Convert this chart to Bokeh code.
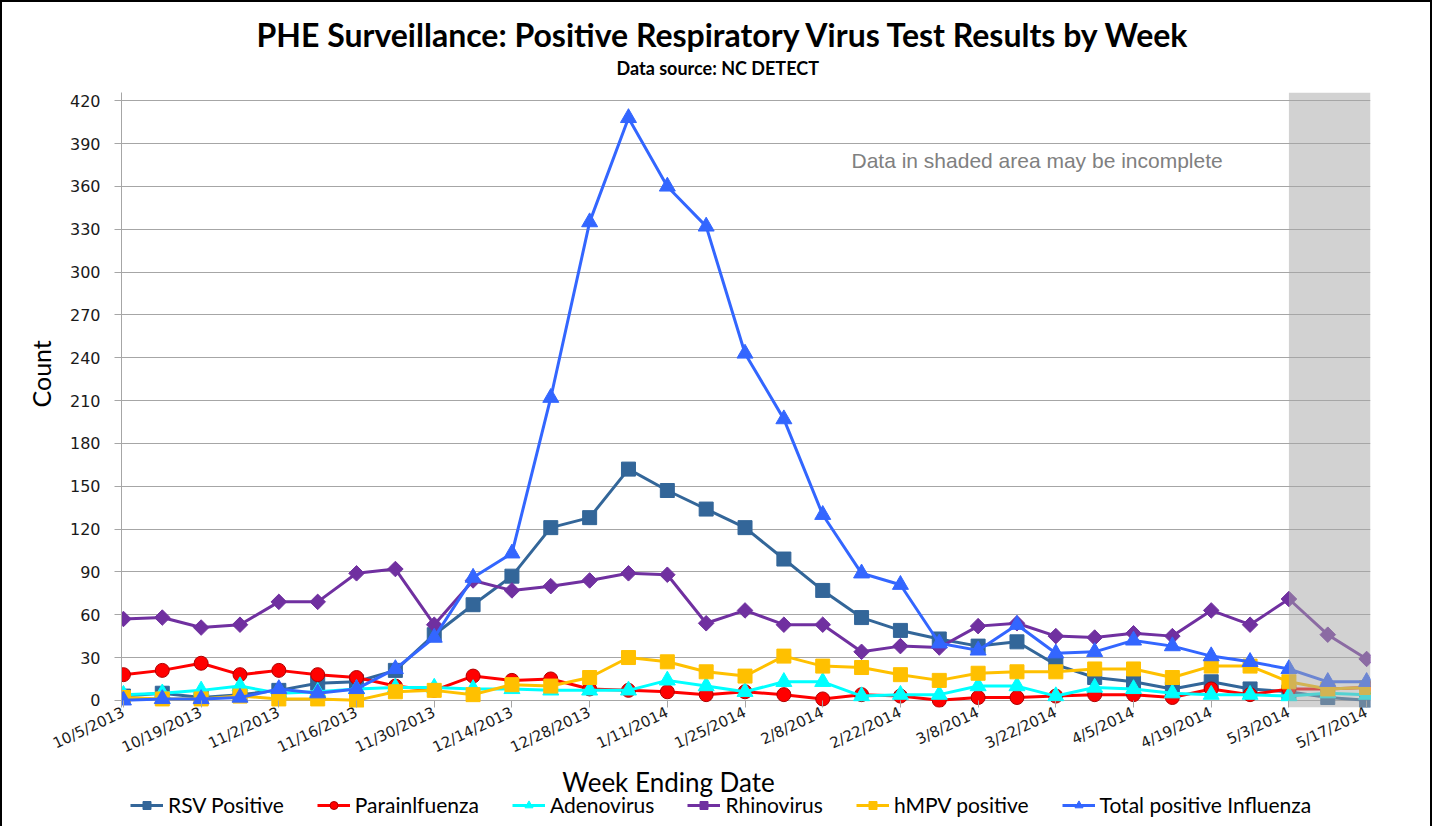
from bokeh.plotting import figure
from bokeh.layouts import column
from bokeh.models import (FixedTicker, Label, Legend, LegendItem, BoxAnnotation, Range1d, Title)
from bokeh.embed import file_html
from bokeh.resources import INLINE

weeks = ["10/5/2013", "10/12/2013", "10/19/2013", "10/26/2013", "11/2/2013", "11/9/2013",
         "11/16/2013", "11/23/2013", "11/30/2013", "12/7/2013", "12/14/2013", "12/21/2013",
         "12/28/2013", "1/4/2014", "1/11/2014", "1/18/2014", "1/25/2014", "2/1/2014",
         "2/8/2014", "2/15/2014", "2/22/2014", "3/1/2014", "3/8/2014", "3/15/2014",
         "3/22/2014", "3/29/2014", "4/5/2014", "4/12/2014", "4/19/2014", "4/26/2014",
         "5/3/2014", "5/10/2014", "5/17/2014"]

rsv = [3, 5, 2, 4, 7, 12, 13, 21, 46, 67, 87, 121, 128, 162, 147, 134, 121, 99, 77, 58,
       49, 43, 38, 41, 25, 16, 13, 8, 13, 8, 6, 2, 0]
para = [18, 21, 26, 18, 21, 18, 16, 10, 7, 17, 14, 15, 8, 7, 6, 4, 6, 4, 1, 4,
        3, 0, 2, 2, 3, 4, 4, 2, 8, 4, 8, 8, 9]
adeno = [4, 5, 7, 10, 5, 6, 8, 9, 9, 8, 8, 7, 7, 7, 14, 10, 6, 13, 13, 3,
         4, 4, 10, 10, 3, 9, 8, 5, 4, 4, 3, 5, 4]
rhino = [57, 58, 51, 53, 69, 69, 89, 92, 53, 84, 77, 80, 84, 89, 88, 54, 63, 53, 53, 34,
         38, 37, 52, 54, 45, 44, 47, 45, 63, 53, 71, 46, 29]
hmpv = [2, 1, 1, 3, 1, 1, 0, 6, 7, 4, 11, 10, 16, 30, 27, 20, 17, 31, 24, 23,
        18, 14, 19, 20, 20, 22, 22, 16, 24, 24, 13, 8, 9]
flu = [0, 1, 1, 2, 8, 5, 8, 22, 44, 86, 103, 212, 335, 408, 360, 332, 243, 197, 130, 89,
       81, 40, 35, 53, 33, 34, 42, 38, 31, 27, 22, 13, 13]

series_names = ["RSV Positive", "Parainlfuenza", "Adenovirus", "Rhinovirus",
                "hMPV positive", "Total positive Influenza"]
y_ticks = [0, 30, 60, 90, 120, 150, 180, 210, 240, 270, 300, 330, 360, 390, 420]
shaded_from = 30  # index of first incomplete week (5/3/2014)

x = list(range(len(weeks)))
x_ticks = x[::2]

W = 1428
p = figure(width=W, height=765, output_backend="svg", toolbar_location=None,
           x_range=Range1d(-0.05, 32.1), y_range=Range1d(-5, 425.8),
           min_border_left=119, min_border_right=60, min_border_top=90, min_border_bottom=59)
p.outline_line_color = None
p.background_fill_color = "white"
p.border_fill_color = "white"

# main title (outermost above panel)
p.title.text = "PHE Surveillance: Positive Respiratory Virus Test Results by Week"
p.title.align = "left"
p.title.offset = 135
p.title.standoff = -26
p.title.text_font = "Lato"
p.title.text_font_style = "bold"
p.title.text_font_size = "32px"
p.title.text_color = "black"

sub = Title(text="Data source: NC DETECT", align="left", offset=495, standoff=28,
            text_font="Lato", text_font_style="bold", text_font_size="18px",
            text_color="black")
p.add_layout(sub, "above")

# axes
grid_col = "#A6A6A6"
p.xgrid.visible = False
p.ygrid.grid_line_color = grid_col
p.ygrid.grid_line_width = 1
p.yaxis.ticker = FixedTicker(ticks=y_ticks)
p.yaxis.axis_line_color = grid_col
p.yaxis.major_tick_line_color = grid_col
p.yaxis.major_tick_out = 7
p.yaxis.major_tick_in = 0
p.yaxis.minor_tick_line_color = None
p.yaxis.major_label_standoff = 14
p.yaxis.major_label_text_font = "DejaVu Sans"
p.yaxis.major_label_text_font_size = "16px"
p.yaxis.major_label_text_color = "#1a1a1a"

ylab = Title(text="Count", align="left", offset=300, standoff=21,
             text_font="Lato", text_font_style="normal", text_font_size="25px",
             text_color="black")
p.add_layout(ylab, "left")

p.xaxis.ticker = FixedTicker(ticks=x_ticks)
p.xaxis.major_label_overrides = {i: weeks[i] for i in x_ticks}
p.xaxis.axis_line_color = None
p.xaxis.major_tick_line_color = grid_col
p.xaxis.major_tick_in = 7
p.xaxis.major_tick_out = 0
p.xaxis.minor_tick_line_color = None
p.xaxis.major_label_orientation = 0.44
p.xaxis.major_label_standoff = 4
p.xaxis.major_label_text_font = "DejaVu Sans"
p.xaxis.major_label_text_font_size = "15px"
p.xaxis.major_label_text_color = "#1a1a1a"

styles = [
    (rsv, "#336699", "square", 14, 0.0, "#336699"),
    (para, "#FF0000", "circle", 14, 0.0, "#B00000"),
    (adeno, "#00FFFF", "triangle", 16, 0.0, "#00FFFF"),
    (rhino, "#7030A0", "square", 11, 0.785398, "#7030A0"),
    (hmpv, "#FFC000", "square", 14, 0.0, "#FFC000"),
    (flu, "#3366FF", "triangle", 16, 0.0, "#3366FF"),
]

for ys, col, mk, sz, ang, edge in styles:
    p.line(x, ys, line_color=col, line_width=3)
    p.scatter(x, ys, marker=mk, size=sz, angle=ang, fill_color=col, line_color=edge,
              line_width=1)

shade = BoxAnnotation(left=shaded_from, fill_color="#A6A6A6", fill_alpha=0.5, line_color=None)
p.add_layout(shade)

p.add_layout(Label(x=18.74, y=378.2, text="Data in shaded area may be incomplete",
                   text_font="Liberation Sans", text_font_size="21px", text_color="#808080",
                   text_align="left", text_baseline="middle"))

# bottom strip: axis title + legend (shares the week axis of the chart)
QH = 59
q = figure(width=W, height=QH, output_backend="svg", toolbar_location=None,
           x_range=p.x_range, y_range=Range1d(0, QH),
           x_axis_location=None, y_axis_location=None,
           min_border_left=119, min_border_right=60, min_border_top=0, min_border_bottom=0)
q.outline_line_color = None
q.grid.visible = False
q.background_fill_color = "white"
q.border_fill_color = "white"

q.add_layout(Label(x=14.03, y=QH - 14, text="Week Ending Date",
                   text_font="Lato", text_font_size="26px", text_color="black",
                   text_align="center", text_baseline="middle"))

items = []
for name, (ys, col, mk, sz, ang, edge) in zip(series_names, styles):
    # swatch-only renderers, positioned outside the strip's visible range
    rl = q.line(x=[-100, -99], y=[-100, -100], line_color=col, line_width=3)
    rm = q.scatter(x=[-100], y=[-100], marker=mk, size=sz, angle=ang, fill_color=col,
                   line_color=edge, line_width=1)
    items.append(LegendItem(label=name, renderers=[rl, rm]))

legend = Legend(items=items, orientation="horizontal", location="bottom_left",
                glyph_width=33, glyph_height=20, label_standoff=5, spacing=33,
                padding=2, margin=9, border_line_color=None,
                background_fill_alpha=0.0,
                label_text_font="Lato", label_text_font_size="21px",
                label_text_color="black")
q.add_layout(legend)

layout = column(p, q, spacing=0,
                styles={"border-left": "2px solid black", "border-top": "2px solid black",
                        "border-right": "2px solid black"})

open("out.html", "w").write(file_html(layout, INLINE))
